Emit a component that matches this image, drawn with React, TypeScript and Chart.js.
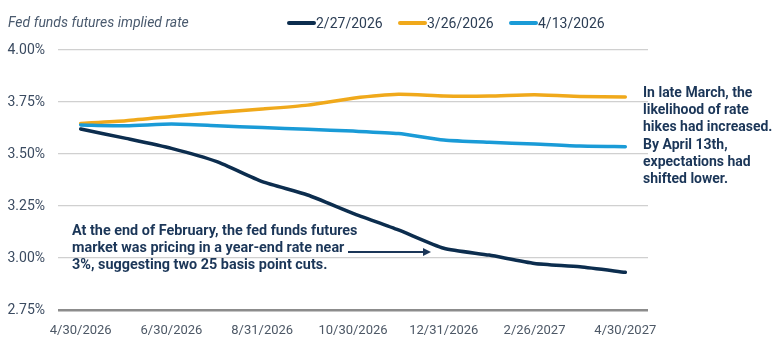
import React, { useEffect, useRef } from "react";
import { Chart, registerables } from "chart.js";

Chart.register(...registerables);

const categories = [
  "4/30/2026", "5/29/2026", "6/30/2026", "7/31/2026", "8/31/2026", "9/30/2026",
  "10/30/2026", "11/30/2026", "12/31/2026", "1/29/2027", "2/26/2027", "3/31/2027", "4/30/2027",
];
const xTickLabels = ["4/30/2026", "6/30/2026", "8/31/2026", "10/30/2026", "12/31/2026", "2/26/2027", "4/30/2027"];
const yTicks = [2.75, 3.0, 3.25, 3.5, 3.75, 4.0];

const seriesFeb27 = [3.62, 3.575, 3.527, 3.463, 3.367, 3.303, 3.215, 3.135, 3.047, 3.014, 2.974, 2.958, 2.931];
const seriesMar26 = [3.647, 3.66, 3.68, 3.7, 3.716, 3.735, 3.768, 3.787, 3.779, 3.779, 3.785, 3.777, 3.774];
const seriesApr13 = [3.64, 3.636, 3.644, 3.636, 3.627, 3.619, 3.61, 3.598, 3.567, 3.556, 3.548, 3.538, 3.535];

const seriesNames = ["2/27/2026", "3/26/2026", "4/13/2026"];
const seriesColors = ["#0c2d4e", "#f0a91b", "#1a9bd7"];

const chartTitle = "Fed funds futures implied rate";
const noteRight = [
  "In late March, the",
  "likelihood of rate",
  "hikes had increased.",
  "By April 13th,",
  "expectations had",
  "shifted lower.",
];
const noteLeft = [
  "At the end of February, the fed funds futures",
  "market was pricing in a year-end rate near",
  "3%, suggesting two 25 basis point cuts.",
];

const FONT = "Roboto, 'Noto Sans', sans-serif";

const overlayPlugin = {
  id: "overlay",
  afterDraw(chart: any) {
    const ctx = chart.ctx as CanvasRenderingContext2D;
    ctx.save();
    // title
    ctx.fillStyle = "#4a5a6e";
    ctx.font = `italic 14px ${FONT}`;
    ctx.textBaseline = "alphabetic";
    ctx.textAlign = "left";
    ctx.fillText(chartTitle, 8, 27);

    // legend
    const legendX = [288, 399, 510];
    seriesNames.forEach((name, i) => {
      ctx.strokeStyle = seriesColors[i];
      ctx.lineWidth = 4;
      ctx.lineCap = "round";
      ctx.beginPath();
      ctx.moveTo(legendX[i] + 1, 23);
      ctx.lineTo(legendX[i] + 26, 23);
      ctx.stroke();
      ctx.fillStyle = "#2c3e55";
      ctx.font = `14px ${FONT}`;
      ctx.fillText(name, legendX[i] + 28, 28);
    });

    // right note
    ctx.fillStyle = "#1b3658";
    ctx.font = `bold 14px ${FONT}`;
    noteRight.forEach((t, i) => ctx.fillText(t, 643, 97 + i * 17.2));

    // left note
    ctx.font = `bold 14.4px ${FONT}`;
    noteLeft.forEach((t, i) => ctx.fillText(t, 72, 235 + i * 17));

    // arrow
    ctx.strokeStyle = "#1b3658";
    ctx.fillStyle = "#1b3658";
    ctx.lineWidth = 1.8;
    ctx.lineCap = "butt";
    ctx.beginPath();
    ctx.moveTo(348, 252);
    ctx.lineTo(424, 252);
    ctx.stroke();
    ctx.beginPath();
    ctx.moveTo(431, 252);
    ctx.lineTo(423, 248);
    ctx.lineTo(423, 256);
    ctx.closePath();
    ctx.fill();
    ctx.restore();
  },
};

export default function App() {
  const ref = useRef<HTMLCanvasElement | null>(null);
  useEffect(() => {
    document.body.style.margin = "0";
    if (!ref.current) return;
    Chart.defaults.font.family = FONT;
    const data = [seriesFeb27, seriesMar26, seriesApr13];
    const chart = new Chart(ref.current, {
      type: "line",
      data: {
        labels: categories,
        datasets: data.map((d, i) => ({
          label: seriesNames[i],
          data: d,
          borderColor: seriesColors[i],
          backgroundColor: seriesColors[i],
          borderWidth: 3.5,
          pointRadius: 0,
          tension: 0.2,
          borderCapStyle: "round" as const,
          order: i === 0 ? 3 : i === 1 ? 2 : 1,
        })),
      },
      options: {
        animation: false,
        responsive: true,
        maintainAspectRatio: false,
        layout: { padding: { top: 50, right: 132, left: 0, bottom: 0 } },
        plugins: { legend: { display: false }, title: { display: false }, tooltip: { enabled: false } },
        scales: {
          x: {
            type: "category",
            offset: true,
            grid: { display: false },
            border: { display: false },
            ticks: {
              autoSkip: false,
              maxRotation: 0,
              minRotation: 0,
              padding: 5,
              color: "#4d5866",
              font: { size: 13 },
              callback: (_v: any, idx: number) =>
                xTickLabels.includes(categories[idx]) ? categories[idx] : "",
            },
            afterFit: (s: any) => {
              s.height = 40;
            },
          },
          y: {
            min: 2.75,
            max: 4.0,
            afterBuildTicks: (s: any) => {
              s.ticks = yTicks.map((v) => ({ value: v }));
            },
            grid: {
              drawTicks: false,
              color: (c: any) => (c.tick && c.tick.value === 2.75 ? "#8c8c8c" : "#d0d0d0"),
              lineWidth: (c: any) => (c.tick && c.tick.value === 2.75 ? 2.5 : 1.3),
            },
            border: { display: false },
            ticks: {
              padding: 13,
              color: "#3b4b61",
              font: { size: 14 },
              callback: (v: any) => Number(v).toFixed(2) + "%",
            },
            afterFit: (s: any) => {
              s.width = 58;
            },
          },
        },
      },
      plugins: [overlayPlugin],
    });
    return () => chart.destroy();
  }, []);
  return (
    <div style={{ width: 780, height: 350, position: "relative", background: "#fff" }}>
      <canvas ref={ref} />
    </div>
  );
}
